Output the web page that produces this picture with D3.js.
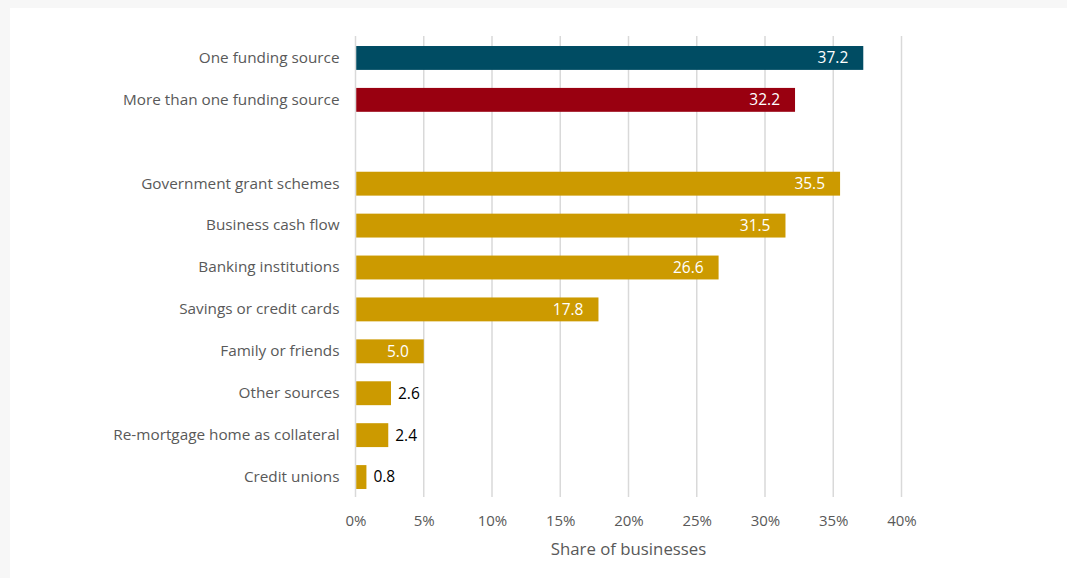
<!DOCTYPE html>
<html>
<head>
<meta charset="utf-8">
<script src="https://cdn.jsdelivr.net/npm/d3@7"></script>
<style>
  html, body { margin: 0; padding: 0; background: #f7f7f7; }
  svg { display: block; }
  text { font-family: "Open Sans", "Liberation Sans", Arial, sans-serif; }
</style>
</head>
<body>
<svg id="chart" width="1067" height="578"></svg>
<script>
// Funding sources and share of businesses (%)
const categories = [
  "One funding source",
  "More than one funding source",
  "",
  "Government grant schemes",
  "Business cash flow",
  "Banking institutions",
  "Savings or credit cards",
  "Family or friends",
  "Other sources",
  "Re-mortgage home as collateral",
  "Credit unions"
];
const values = [37.2, 32.2, null, 35.5, 31.5, 26.6, 17.8, 5.0, 2.6, 2.4, 0.8];
const groups = ["single", "multiple", null, "source", "source", "source", "source", "source", "source", "source", "source"];
const xTicks = [0, 5, 10, 15, 20, 25, 30, 35, 40];
const axisTitle = "Share of businesses";

const colors = { single: "#004c63", multiple: "#990010", source: "#cc9a00" };
const FONT = "'Open Sans', 'Liberation Sans', Arial, sans-serif";

const svg = d3.select("#chart");
svg.append("rect").attr("x", 10).attr("y", 8).attr("width", 1057).attr("height", 570).attr("fill", "#ffffff");

const x = d3.scaleLinear().domain([0, 40]).range([355.5, 901.5]);
const y = d3.scaleBand().domain(d3.range(categories.length)).range([37, 498]).paddingInner(0.43).paddingOuter(0.215);

// vertical gridlines
svg.append("g").selectAll("line").data(xTicks).join("line")
  .attr("x1", d => x(d)).attr("x2", d => x(d))
  .attr("y1", 36).attr("y2", 497)
  .attr("stroke", "#d9d9d9").attr("stroke-width", 1.5);

// x axis labels
const xAxis = d3.axisBottom(x).tickValues(xTicks).tickFormat(d => d + "%").tickSize(0).tickPadding(0);
const gx = svg.append("g").attr("transform", "translate(0,526)").call(xAxis);
gx.select(".domain").remove();
gx.selectAll("text").attr("fill", "#595959").attr("font-size", 15).attr("dy", 0)
  .style("font-family", FONT);

// category labels
const rows = categories.map((c, i) => ({ c, v: values[i], g: groups[i], i })).filter(d => d.v !== null);
const yAxis = d3.axisLeft(y).tickValues(rows.map(d => d.i)).tickFormat(i => categories[i]).tickSize(0).tickPadding(16);
const gy = svg.append("g").attr("transform", `translate(${x(0)},0)`).call(yAxis);
gy.select(".domain").remove();
gy.selectAll("text").attr("fill", "#595959").attr("font-size", 15.3)
  .style("font-family", FONT);

// bars
svg.append("g").selectAll("rect").data(rows).join("rect")
  .attr("x", x(0) + 0.75)
  .attr("y", d => y(d.i))
  .attr("width", d => x(d.v) - x(0) - 0.75)
  .attr("height", y.bandwidth())
  .attr("fill", d => colors[d.g]);

// value labels
svg.append("g").selectAll("text").data(rows).join("text")
  .attr("x", d => d.v >= 5 ? x(d.v) - 15 : x(d.v) + 7)
  .attr("y", d => y(d.i) + y.bandwidth() / 2)
  .attr("dy", "0.35em")
  .attr("text-anchor", d => d.v >= 5 ? "end" : "start")
  .attr("fill", d => d.v >= 5 ? "#ffffff" : "#000000")
  .attr("font-size", 15.5)
  .text(d => d.v.toFixed(1));

// axis title
svg.append("text")
  .attr("x", (x(0) + x(40)) / 2).attr("y", 555)
  .attr("text-anchor", "middle")
  .attr("fill", "#595959").attr("font-size", 16.8)
  .text(axisTitle);
</script>
</body>
</html>
